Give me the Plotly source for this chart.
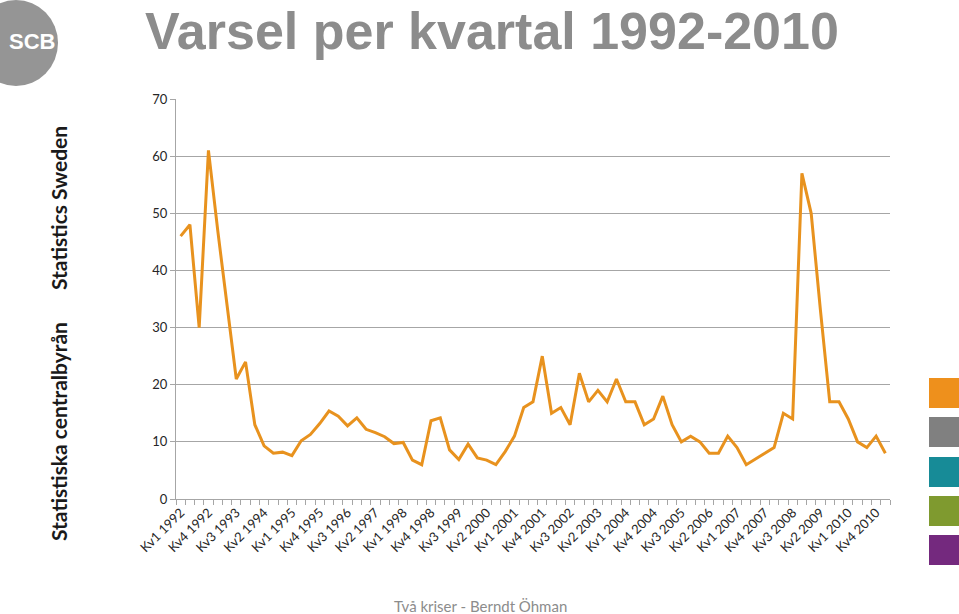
import plotly.graph_objects as go

# ---- data ----
years = list(range(1992, 2012))
quarters = [f"Kv{q} {y}" for y in years for q in (1, 2, 3, 4)][:77]   # Kv1 1992 .. Kv1 2011
varsel = [46, 48, 30, 61, 47, 34, 21, 24, 13, 9.3,
          8, 8.2, 7.6, 10.2, 11.3, 13.2, 15.4, 14.5, 12.8, 14.2,
          12.2, 11.6, 10.9, 9.7, 9.9, 6.8, 6.0, 13.7, 14.2, 8.6,
          6.9, 9.6, 7.2, 6.8, 6.0, 8.3, 11, 16, 17, 25,
          15, 16, 13, 22, 17, 19, 17, 21, 17, 17,
          13, 14, 18, 13, 10, 11, 10, 8, 8, 11,
          9, 6, 7, 8, 9, 15, 14, 57, 50, 33,
          17, 17, 14, 10, 9, 11, 8]
label_step = 3
y_ticks = [0, 10, 20, 30, 40, 50, 60, 70]
palette = ["#EE901C", "#808080", "#178B97", "#7F9A2F", "#74297E"]

title_text = "Varsel per kvartal 1992-2010"
footer_text = "Två kriser - Berndt Öhman"

# ---- layout geometry (px) ----
W, H = 959, 614
L, R, T, B = 176, 69, 99, 115
PW, PH = W - L - R, H - T - B

def px(x):
    return (x - L) / PW

def py(y):
    return (H - B - y) / PH

xs = list(range(len(quarters)))
tickvals = xs[::label_step]
ticktext = [quarters[i] for i in tickvals]

fig = go.Figure()
fig.add_trace(go.Scatter(
    x=xs, y=varsel, mode="lines",
    line=dict(color="#E8921E", width=3),
    hoverinfo="skip", showlegend=False,
))

grey = "#A6A6A6"
fig.update_layout(
    width=W, height=H,
    margin=dict(l=L, r=R, t=T, b=B, pad=0),
    paper_bgcolor="white", plot_bgcolor="white",
    font=dict(family="Lato, Open Sans, sans-serif", color="#404040"),
    xaxis=dict(
        range=[-0.5, len(quarters) - 0.5],
        tickmode="array", tickvals=tickvals, ticktext=ticktext,
        tickangle=-45, ticks="", ticklen=0,
        tickfont=dict(size=13, color="#262626"),
        showgrid=False, zeroline=False,
        showline=True, linecolor=grey, linewidth=1,
        minor=dict(tickmode="linear", tick0=-0.5, dtick=1,
                   ticks="outside", ticklen=5, tickcolor=grey, showgrid=False),
    ),
    yaxis=dict(
        range=[0, 70], tickmode="array", tickvals=y_ticks,
        ticks="outside", ticklen=5, tickcolor=grey,
        tickfont=dict(size=13, color="#262626"),
        showgrid=True, gridcolor=grey, gridwidth=1,
        zeroline=False, showline=True, linecolor=grey, linewidth=1,
    ),
)

shapes = []
# SCB logo circle
shapes.append(dict(type="circle", xref="paper", yref="paper",
                   x0=px(-26), x1=px(58), y0=py(86), y1=py(0),
                   fillcolor="#959595", line=dict(width=0), layer="below"))
# colour boxes at right
box_tops = [378, 417, 457, 496, 535]
for c, top in zip(palette, box_tops):
    shapes.append(dict(type="rect", xref="paper", yref="paper",
                       x0=px(929), x1=px(960), y0=py(top + 30), y1=py(top),
                       fillcolor=c, line=dict(width=0)))
fig.update_layout(shapes=shapes)

ann = []
ann.append(dict(text="<b>" + title_text + "</b>", xref="paper", yref="paper",
                x=px(143), y=py(31), xanchor="left", yanchor="middle",
                showarrow=False,
                font=dict(family="Liberation Sans, Arial, sans-serif", size=52, color="#8C8C8C")))
ann.append(dict(text="<b>SCB</b>", xref="paper", yref="paper",
                x=px(32), y=py(42), xanchor="center", yanchor="middle",
                showarrow=False,
                font=dict(family="Liberation Sans Narrow, Liberation Sans, sans-serif", size=22, color="white")))
ann.append(dict(text="<b>Statistics Sweden</b>", xref="paper", yref="paper",
                x=px(58), y=py(208), xanchor="center", yanchor="middle",
                textangle=-90, showarrow=False,
                font=dict(family="Lato, sans-serif", size=21, color="#1a1a1a")))
ann.append(dict(text="<b>Statistiska centralbyrån</b>", xref="paper", yref="paper",
                x=px(58), y=py(432), xanchor="center", yanchor="middle",
                textangle=-90, showarrow=False,
                font=dict(family="Lato, sans-serif", size=21, color="#1a1a1a")))
ann.append(dict(text=footer_text, xref="paper", yref="paper",
                x=px(480), y=py(606), xanchor="center", yanchor="middle",
                showarrow=False,
                font=dict(family="Lato, sans-serif", size=15, color="#8C8C8C")))
fig.update_layout(annotations=ann)

fig.write_html("out.html")
